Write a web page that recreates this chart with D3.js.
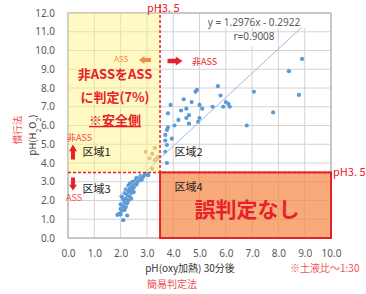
<!DOCTYPE html>
<html>
<head>
<meta charset="utf-8">
<script src="https://cdn.jsdelivr.net/npm/d3@7"></script>
<style>
  body { margin: 0; background: #fff; }
  svg { display: block; font-family: "Noto Sans CJK JP", "Noto Sans", sans-serif; }
</style>
</head>
<body>
<div id="chart"></div>
<script>
// Data
const xTicks = [0, 1, 2, 3, 4, 5, 6, 7, 8, 9, 10];
const yTicks = [0, 1, 2, 3, 4, 5, 6, 7, 8, 9, 10, 11, 12];
const threshold = 3.5;
const slope = 1.2976, intercept = -0.2922;
const trendRange = [1.9, 8.9];

// pH(oxy heated, 30 min) vs pH(H2O2)
const oxyPH = [1.95, 2.0, 2.1, 2.05, 2.15, 2.1, 2.2, 2.0, 2.15, 2.25, 2.1, 2.2, 2.3, 2.05, 2.25, 2.35, 2.15, 2.3, 2.4, 2.2,
  2.35, 2.45, 2.3, 2.4, 2.5, 2.35, 2.5, 2.6, 2.45, 2.55, 2.65, 2.6, 2.7, 2.75, 2.85, 2.9, 3.0, 2.8, 2.25, 2.0,
  2.4, 2.5, 3.05, 1.88,
  3.1, 3.2, 2.95, 3.3, 3.4, 3.3, 3.2, 3.76, 3.7, 3.76, 3.7, 3.95, 3.7, 3.76, 3.8, 3.8, 3.9, 4.3, 4.5, 4.4,
  4.7, 4.9, 4.85, 5.0, 5.1, 4.6, 4.5, 4.6, 5.0, 4.95, 5.5, 5.7, 5.8, 5.9, 6.0, 6.1, 6.15, 6.8, 7.07, 7.8,
  8.4, 8.78, 8.9, 4.05, 4.2];
const h2o2PH = [1.3, 1.25, 0.95, 1.45, 1.5, 1.7, 1.65, 1.8, 1.9, 1.85, 2.05, 2.1, 2.0, 2.2, 2.3, 2.2, 2.4, 2.5, 2.4, 2.6,
  2.65, 2.55, 2.8, 2.75, 2.7, 2.9, 2.9, 2.85, 3.0, 3.05, 3.0, 3.2, 3.15, 3.3, 3.25, 3.35, 3.4, 3.1, 1.2, 1.55,
  2.1, 2.45, 3.35, 1.23,
  4.25, 4.5, 4.6, 4.8, 4.3, 4.15, 3.7, 4.0, 4.6, 4.96, 5.2, 5.3, 5.5, 5.76, 5.9, 6.65, 7.1, 6.8, 6.9, 7.4,
  7.25, 7.9, 7.8, 7.1, 6.9, 6.55, 6.4, 6.1, 6.4, 6.2, 7.0, 8.1, 7.6, 7.0, 7.25, 7.15, 7.0, 6.0, 7.8, 6.7,
  8.9, 7.63, 9.55, 6.0, 6.3];

const W = 366, H = 294;
const red = "#e8202a";

const svg = d3.select("#chart").append("svg")
    .attr("width", W)
    .attr("height", H);

// Scales
const x = d3.scaleLinear().domain([0, 10]).range([68, 331]);
const y = d3.scaleLinear().domain([0, 12]).range([238, 13]);

// Grid
svg.append("g").selectAll("line.h").data(yTicks).join("line")
    .attr("x1", x(0)).attr("x2", x(10))
    .attr("y1", d => y(d)).attr("y2", d => y(d))
    .attr("stroke", "#d4d4d4").attr("stroke-width", 1);
svg.append("g").selectAll("line.v").data(xTicks).join("line")
    .attr("x1", d => x(d)).attr("x2", d => x(d))
    .attr("y1", y(0)).attr("y2", y(12))
    .attr("stroke", "#d4d4d4").attr("stroke-width", 1);
svg.append("rect")
    .attr("x", x(0)).attr("y", y(12))
    .attr("width", x(10) - x(0)).attr("height", y(0) - y(12))
    .attr("fill", "none").attr("stroke", "#a6a6a6");

// Axes (labels only)
const xAxis = svg.append("g")
    .attr("transform", `translate(0,${y(0)})`)
    .call(d3.axisBottom(x).tickValues(xTicks).tickFormat(d3.format(".1f")).tickSize(0).tickPadding(12));
const yAxis = svg.append("g")
    .attr("transform", `translate(${x(0)},0)`)
    .call(d3.axisLeft(y).tickValues(yTicks).tickFormat(d3.format(".1f")).tickSize(0).tickPadding(13));
[xAxis, yAxis].forEach(g => {
  g.select(".domain").remove();
  g.selectAll("text").attr("fill", "#595959").style("font-size", "10px").style("font-family", "Noto Sans, sans-serif");
});

// Points (those under the yellow zone look brownish in the original)
svg.append("g").selectAll("circle").data(oxyPH).join("circle")
    .attr("cx", d => x(d))
    .attr("cy", (d, i) => y(h2o2PH[i]))
    .attr("r", 2.1)
    .attr("fill", (d, i) => (d < threshold && h2o2PH[i] > threshold) ? "#c9a08a" : "#5b9bd5");

// Trend line
svg.append("line")
    .attr("x1", x(trendRange[0])).attr("y1", y(slope * trendRange[0] + intercept))
    .attr("x2", x(trendRange[1])).attr("y2", y(slope * trendRange[1] + intercept))
    .attr("stroke", "#9dbbe0").attr("stroke-width", 1);

// Region overlays
svg.append("rect")
    .attr("x", x(0)).attr("y", y(12))
    .attr("width", x(threshold) - x(0)).attr("height", y(threshold) - y(12))
    .attr("fill", "#fff27a").attr("opacity", 0.45);
svg.append("rect")
    .attr("x", x(threshold)).attr("y", y(threshold))
    .attr("width", x(10) - x(threshold)).attr("height", y(0) - y(threshold))
    .attr("fill", "#f4823c").attr("fill-opacity", 0.68)
    .attr("stroke", red).attr("stroke-width", 2);

// Threshold lines
svg.append("line")
    .attr("x1", x(threshold)).attr("x2", x(threshold))
    .attr("y1", 5).attr("y2", y(threshold))
    .attr("stroke", red).attr("stroke-width", 1.5).attr("stroke-dasharray", "3,2");
svg.append("line")
    .attr("x1", x(0)).attr("x2", x(10))
    .attr("y1", y(threshold)).attr("y2", y(threshold))
    .attr("stroke", red).attr("stroke-width", 1.5).attr("stroke-dasharray", "3,2");

svg.append("text").attr("x", x(threshold) - 13).attr("y", 12)
    .attr("fill", red).style("font-size", "11px").text("pH3. 5");
svg.append("text").attr("x", 333).attr("y", y(threshold) + 4)
    .attr("fill", red).style("font-size", "11px").text("pH3. 5");

// Equation box
svg.append("rect").attr("x", x(5) + 1).attr("y", y(12) + 1).attr("width", 105).attr("height", 14).attr("fill", "#fff");
svg.append("rect").attr("x", x(6) + 1).attr("y", y(11) + 1).attr("width", 50).attr("height", 14).attr("fill", "#fff");
svg.append("text").attr("x", 254).attr("y", 26).attr("text-anchor", "middle")
    .attr("fill", "#595959").style("font-size", "10px").style("font-family", "Noto Sans, sans-serif")
    .text("y = 1.2976x - 0.2922");
svg.append("text").attr("x", 254).attr("y", 40).attr("text-anchor", "middle")
    .attr("fill", "#595959").style("font-size", "10px").style("font-family", "Noto Sans, sans-serif")
    .text("r=0.9008");

// Block arrows
function arrow(cx, cy, dir, len, wid, color) {
  const hl = len * 0.45, sw = wid * 0.5;
  const pts = [[-len / 2, -sw / 2], [len / 2 - hl, -sw / 2], [len / 2 - hl, -wid / 2], [len / 2, 0],
    [len / 2 - hl, wid / 2], [len / 2 - hl, sw / 2], [-len / 2, sw / 2]];
  svg.append("path")
      .attr("d", d3.line()(pts) + "Z")
      .attr("transform", `translate(${cx},${cy}) rotate(${dir})`)
      .attr("fill", color);
}
arrow(145, 60, 180, 12, 8, "#f28a4a");
arrow(175, 61, 0, 15, 9, red);
arrow(73, 152, -90, 15, 8, red);
arrow(73, 184, 90, 13, 8, red);

// Small labels
const small = (tx, ty, str, color, size, anchor) => svg.append("text")
    .attr("x", tx).attr("y", ty).attr("fill", color)
    .attr("text-anchor", anchor || "start")
    .style("font-size", size + "px").text(str);
small(114, 62, "ASS", "#f28a4a", 8);
small(192, 65, "非ASS", red, 9);
small(67, 141, "非ASS", "#f05050", 9);
small(66, 201, "ASS", "#f05050", 9);

// Zone labels
small(x(0.55), y(4.4), "区域1", "#222", 11);
small(x(4.05), y(4.4), "区域2", "#222", 11);
small(x(0.55), y(2.4), "区域3", "#222", 11);
small(x(4.05), y(2.5), "区域4", "#222", 11);

// Big messages
const msg = ["非ASSをASS", "に判定(7%)", "※安全側"];
svg.append("g").selectAll("text").data(msg).join("text")
    .attr("x", 115)
    .attr("y", (d, i) => 79 + i * 23)
    .attr("text-anchor", "middle")
    .attr("fill", red)
    .style("font-size", "13px")
    .style("font-weight", "bold")
    .style("text-decoration", (d, i) => i === 2 ? "underline" : null)
    .text(d => d);
svg.append("text").attr("x", 247).attr("y", 217).attr("text-anchor", "middle")
    .attr("fill", red).style("font-size", "21px").style("font-weight", "bold")
    .text("誤判定なし");

// Axis titles
const yt = svg.append("text").attr("transform", "translate(36,135) rotate(-90)")
    .attr("text-anchor", "middle").attr("fill", "#333").style("font-size", "9.5px");
yt.append("tspan").text("pH(H");
yt.append("tspan").attr("baseline-shift", "sub").style("font-size", "7px").text("2");
yt.append("tspan").text("O");
yt.append("tspan").attr("baseline-shift", "sub").style("font-size", "7px").text("2");
yt.append("tspan").text(")");
svg.append("text").attr("transform", "translate(21,130) rotate(-90)")
    .attr("text-anchor", "middle").attr("fill", "#f05050").style("font-size", "9.5px").text("慣行法");

small(190, 272, "pH(oxy加熱) 30分後", "#333", 10, "middle");
small(172, 288, "簡易判定法", "#f05050", 10, "middle");
small(290, 272, "※土液比～1:30", "#f05050", 10);
</script>
</body>
</html>
